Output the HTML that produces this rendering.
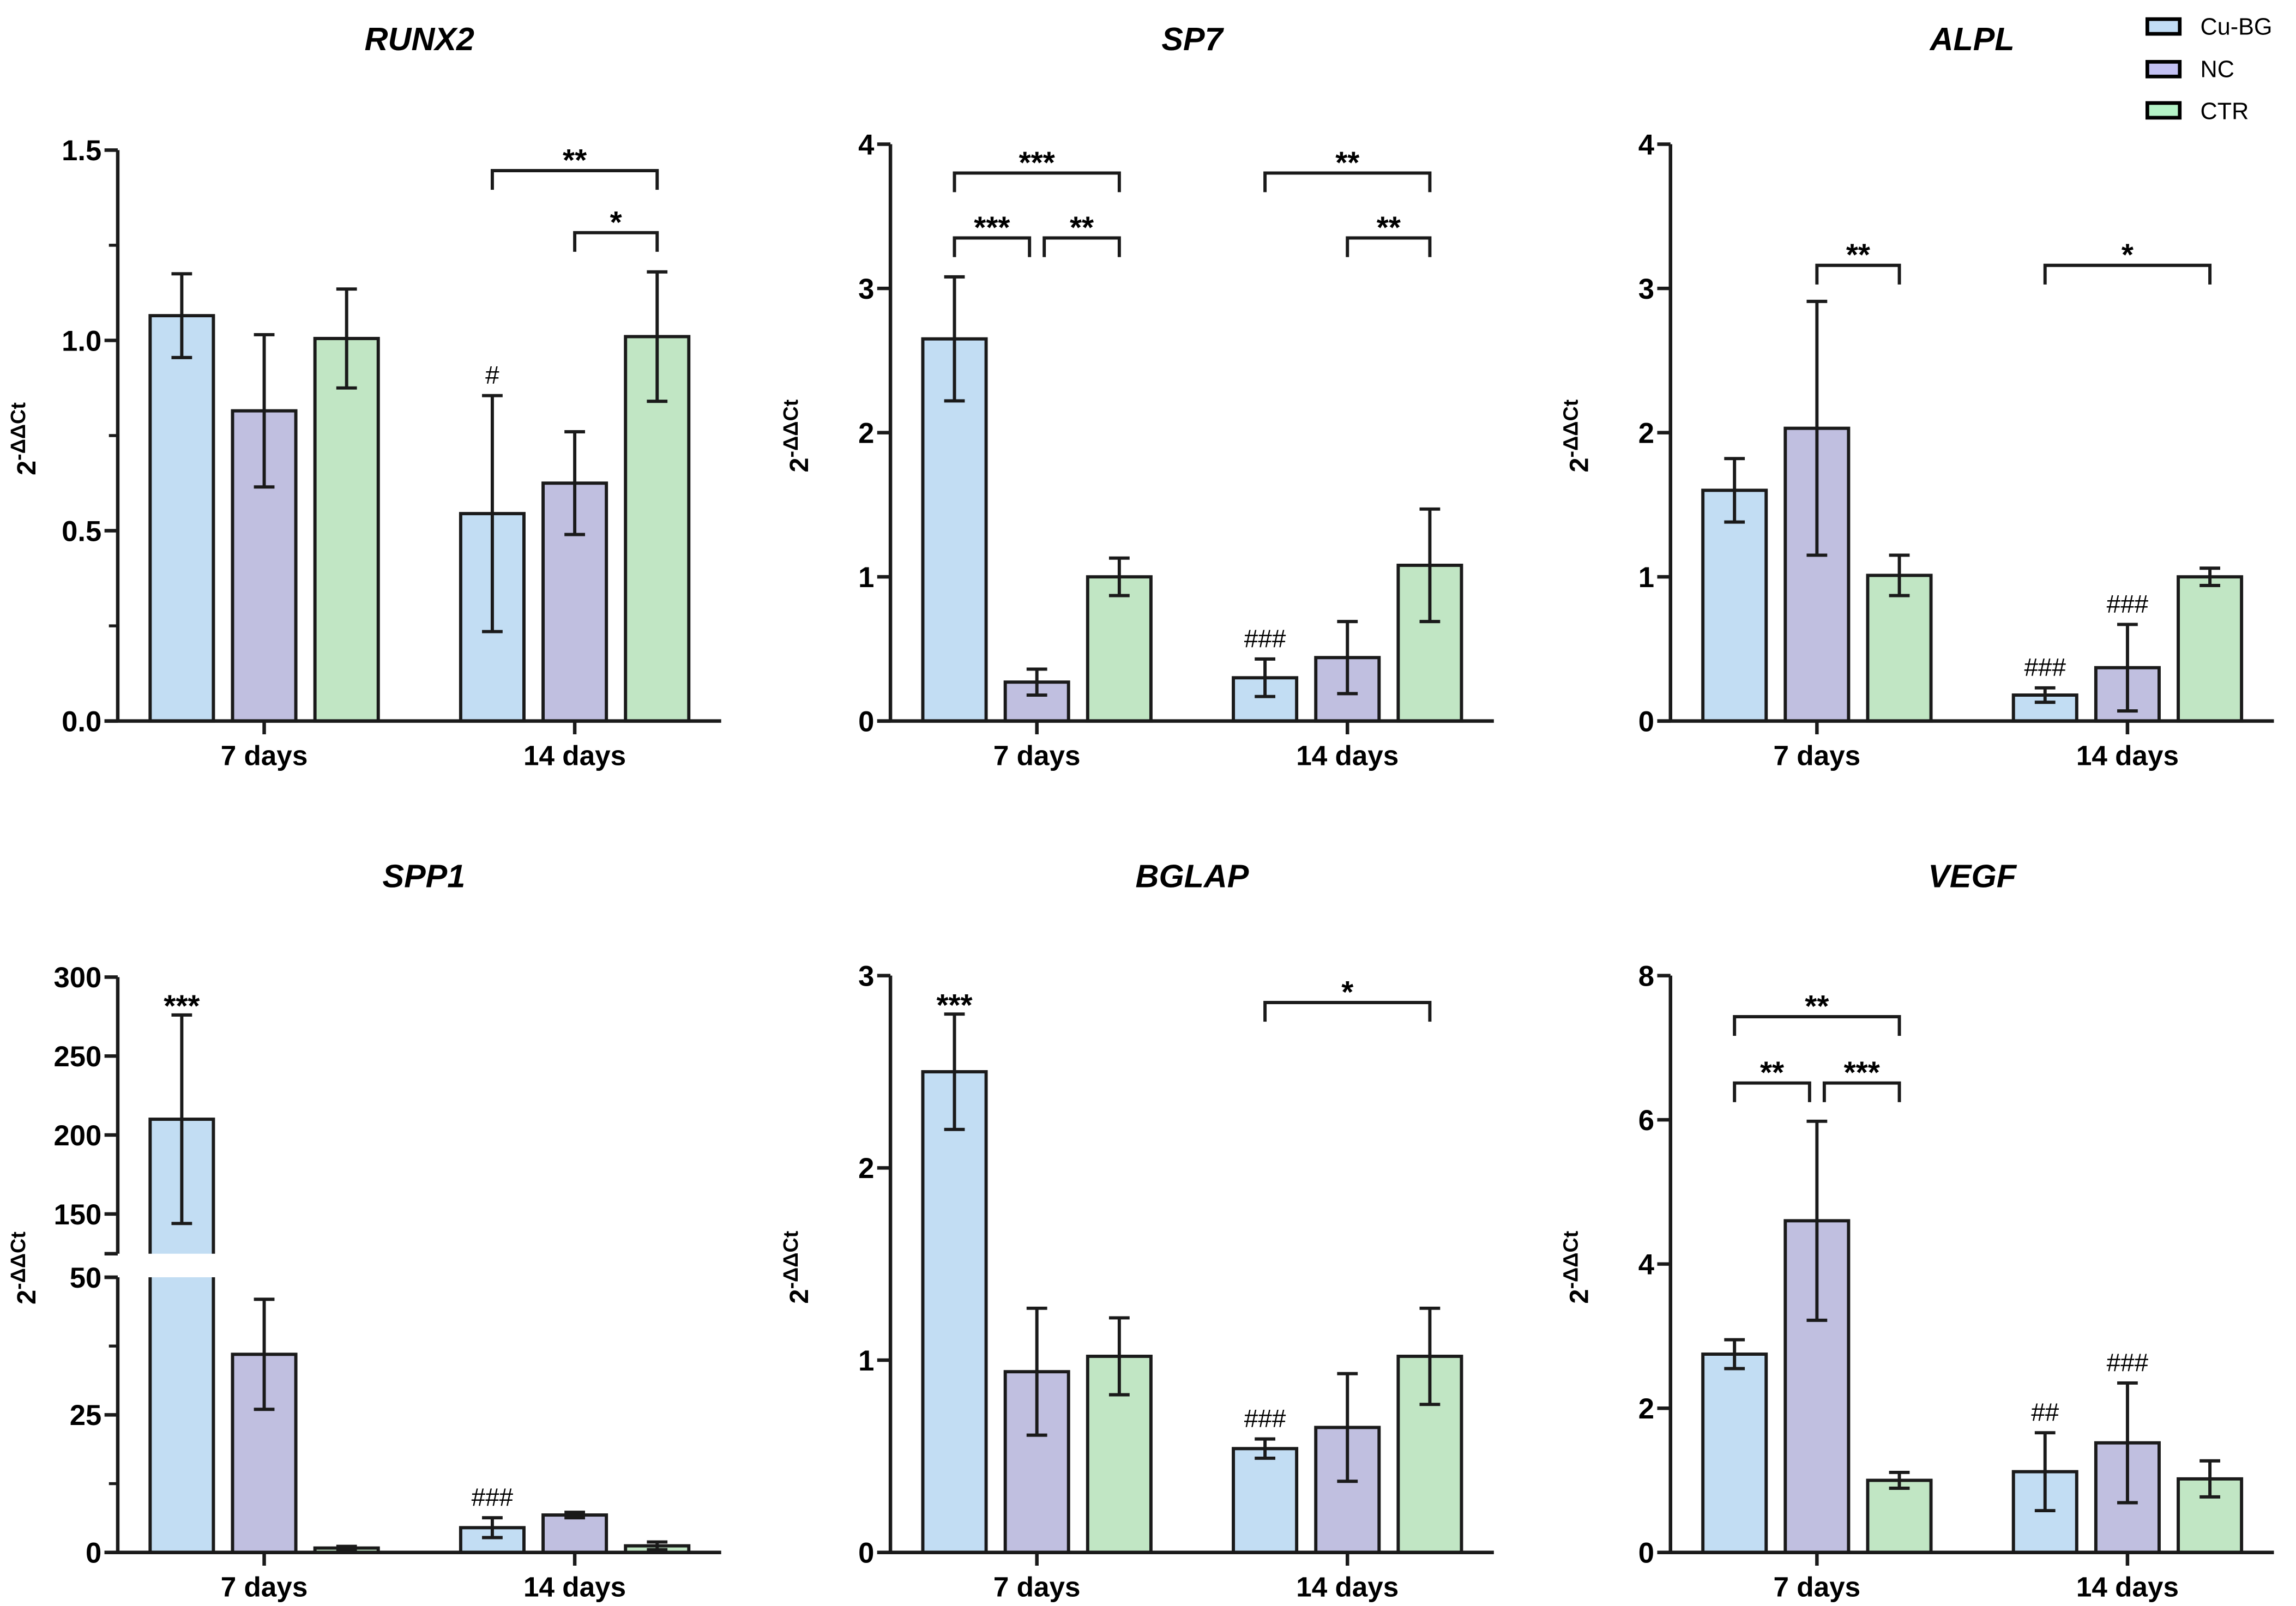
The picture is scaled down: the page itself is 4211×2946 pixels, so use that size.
<!DOCTYPE html>
<html><head><meta charset="utf-8"><style>
html,body{margin:0;padding:0;background:#fff;}
svg{display:block;font-family:"Liberation Sans",sans-serif;}
</style></head><body>
<svg id="fig" width="4211" height="2946" viewBox="0 0 1560 1091.4" preserveAspectRatio="none" xmlns="http://www.w3.org/2000/svg">
<rect x="0" y="0" width="1560" height="1092" fill="#fff"/>
<g>
 <g><rect x="1459" y="13" width="22" height="10" fill="#c2ddf5" stroke="#000" stroke-width="2.5"/><text x="1495" y="23.5" font-size="16">Cu-BG</text></g>
 <g><rect x="1459" y="42" width="22" height="10" fill="#c2c0f2" stroke="#000" stroke-width="2.5"/><text x="1495" y="52.5" font-size="16">NC</text></g>
 <g><rect x="1459" y="70" width="22" height="10" fill="#b4f2c6" stroke="#000" stroke-width="2.5"/><text x="1495" y="81" font-size="16">CTR</text></g>
</g>
</svg>
<script>
const categories = ["7 days","14 days"];
const groups = ["Cu-BG","NC","CTR"];
const genes = ["RUNX2","SP7","ALPL","SPP1","BGLAP","VEGF"];
// means ordered: 7d Cu-BG, NC, CTR, 14d Cu-BG, NC, CTR
const runx2Mean = [1.065,0.815,1.005,0.545,0.625,1.01];
const runx2Err  = [0.11,0.2,0.13,0.31,0.135,0.17];
const sp7Mean = [2.65,0.27,1.0,0.3,0.44,1.08];
const sp7Err  = [0.43,0.09,0.13,0.13,0.25,0.39];
const alplMean = [1.6,2.03,1.01,0.18,0.37,1.0];
const alplErr  = [0.22,0.88,0.14,0.05,0.3,0.06];
const spp1Mean = [210,36,0.8,4.5,6.8,1.2];
const spp1Err  = [66,10,0.3,1.8,0.5,0.7];
const bglapMean = [2.5,0.94,1.02,0.54,0.65,1.02];
const bglapErr  = [0.3,0.33,0.2,0.05,0.28,0.25];
const vegfMean = [2.75,4.6,1.0,1.12,1.52,1.02];
const vegfErr  = [0.2,1.38,0.11,0.54,0.83,0.25];
const runx2Ticks = ["0.0","0.5","1.0","1.5"];
const sp7Ticks = ["0","1","2","3","4"];
const alplTicks = ["0","1","2","3","4"];
const spp1LowTicks = ["0","25","50"];
const spp1HighTicks = ["150","200","250","300"];
const bglapTicks = ["0","1","2","3"];
const vegfTicks = ["0","2","4","6","8"];
// brackets: [fromBar, toBar, level value, label]
const runx2Brackets = [[3,5,1.446,"**"],[4,5,1.283,"*"]];
const sp7Brackets = [[0,2,3.8,"***"],[0,1,3.35,"***"],[1,2,3.35,"**"],[3,5,3.8,"**"],[4,5,3.35,"**"]];
const alplBrackets = [[1,2,3.16,"**"],[3,5,3.16,"*"]];
const spp1Brackets = [];
const bglapBrackets = [[3,5,2.86,"*"]];
const vegfBrackets = [[0,2,7.43,"**"],[0,1,6.51,"**"],[1,2,6.51,"***"]];
// annotations above error bars: [bar, label]
const runx2Marks = [[3,"#"]];
const sp7Marks = [[3,"###"]];
const alplMarks = [[3,"###"],[4,"###"]];
const spp1Marks = [[0,"***"],[3,"###"]];
const bglapMarks = [[0,"***"],[3,"###"]];
const vegfMarks = [[3,"##"],[4,"###"]];

const NS="http://www.w3.org/2000/svg";
const svg=document.getElementById('fig');
const fills=["#c2ddf3","#c0bfe0","#c1e6c4"];
function mk(tag,attrs,parent){const e=document.createElementNS(NS,tag);for(const k in attrs)e.setAttribute(k,attrs[k]);(parent||svg).appendChild(e);return e;}

const panels=[
 {gene:0,ax:80,top:102,bot:490,right:490,cx:285,ty:34,max:1.5,ticks:runx2Ticks,minor:[0.25,0.75,1.25],m:runx2Mean,e:runx2Err,b:runx2Brackets,k:runx2Marks},
 {gene:1,ax:605,top:98,bot:490,right:1015,cx:810,ty:34,max:4,ticks:sp7Ticks,minor:[],m:sp7Mean,e:sp7Err,b:sp7Brackets,k:sp7Marks},
 {gene:2,ax:1135,top:98,bot:490,right:1545,cx:1340,ty:34,max:4,ticks:alplTicks,minor:[],m:alplMean,e:alplErr,b:alplBrackets,k:alplMarks},
 {gene:3,ax:80,top:664,bot:1055,right:490,cx:288,ty:603,broken:true,m:spp1Mean,e:spp1Err,b:spp1Brackets,k:spp1Marks},
 {gene:4,ax:605,top:663,bot:1055,right:1015,cx:810,ty:603,max:3,ticks:bglapTicks,minor:[],m:bglapMean,e:bglapErr,b:bglapBrackets,k:bglapMarks},
 {gene:5,ax:1135,top:663,bot:1055,right:1545,cx:1340,ty:603,max:8,ticks:vegfTicks,minor:[],m:vegfMean,e:vegfErr,b:vegfBrackets,k:vegfMarks}
];

panels.forEach(p=>{
 const g=mk('g',{});
 
 
 let y;
 const brkHi=852, brkLo=868;
 if(p.broken){
   y=v=> v<=50 ? p.bot-(v/50)*(p.bot-brkLo) : (v<125? brkHi : 825-(v-150)*(825-p.top)/150);
 } else {
   y=v=>p.bot-v/p.max*(p.bot-p.top);
 }
 const t=mk('text',{x:p.cx,y:p.ty,'text-anchor':'middle','font-size':22,'font-weight':'bold','font-style':'italic'},g);
 t.textContent=genes[p.gene];
 
 
 const yl=mk('text',{transform:`translate(${p.ax-56},${(p.top+p.bot)/2+27}) rotate(-90)`,'font-size':18,'font-weight':'bold'},g);
 
 
 yl.innerHTML='2<tspan dy="-7" font-size="14">-ΔΔCt</tspan>';
 const bw=43;
 const xs=[p.ax+22,p.ax+78,p.ax+134,p.ax+233,p.ax+289,p.ax+345];
 const centers=xs.map(x=>x+bw/2);
 p.m.forEach((v,i)=>{
   const top=y(v);
   const r=mk('rect',{x:xs[i],y:top,width:bw,height:p.bot-top,fill:fills[i%3],stroke:'#1a1a1a','stroke-width':2.2},g);
   
   
   const hi=y(v+p.e[i]), lo=y(Math.max(0,v-p.e[i]));
   const c=centers[i];
   const eb=mk('path',{d:`M${c},${hi}V${lo}M${c-7},${hi}H${c+7}M${c-7},${lo}H${c+7}`,stroke:'#1a1a1a','stroke-width':2.2,fill:'none'},g);
   
   
 });
 if(p.broken){
   const gap=mk('rect',{x:xs[0]-3,y:brkHi,width:bw+6,height:brkLo-brkHi,fill:'#fff'},g);
   
   
 }
 const axPath = p.broken ? `M${p.ax},${p.top}V${brkHi}M${p.ax-9},${brkHi}H${p.ax}M${p.ax},${brkLo}V${p.bot}M${p.ax-9},${brkLo}H${p.ax}` : `M${p.ax},${p.top}V${p.bot}`;
 const ya=mk('path',{d:axPath,stroke:'#1a1a1a','stroke-width':2.4,fill:'none'},g);
 
 
 const xa=mk('path',{d:`M${p.ax-9},${p.bot}H${p.right}M${(centers[0]+centers[2])/2},${p.bot}v9M${(centers[3]+centers[5])/2},${p.bot}v9`,stroke:'#1a1a1a','stroke-width':2.4,fill:'none'},g);
 
 
 categories.forEach((c,j)=>{
   const xt=mk('text',{x:(centers[j*3]+centers[j*3+2])/2,y:p.bot+30,'text-anchor':'middle','font-size':19,'font-weight':'bold'},g);
   xt.textContent=c;
   
   
 });
 let tl = p.broken ? spp1LowTicks.concat(spp1HighTicks) : p.ticks;
 tl.forEach(s=>{
   const v=parseFloat(s), yy=y(v);
   mk('path',{d:`M${p.ax-9},${yy}H${p.ax}`,stroke:'#1a1a1a','stroke-width':2.4},g);
   const tx=mk('text',{x:p.ax-11,y:yy+7,'text-anchor':'end','font-size':19.5,'font-weight':'bold'},g);
   tx.textContent=s;
   
   
 });
 const minors = p.broken ? [12.5,37.5] : p.minor;
 minors.forEach(v=>{ mk('path',{d:`M${p.ax-6},${y(v)}H${p.ax}`,stroke:'#1a1a1a','stroke-width':2},g); });
 p.b.forEach(bk=>{
   let x1=centers[bk[0]], x2=centers[bk[1]];
   if(bk[1]-bk[0]===1){ if(p.b.some(o=>o!==bk&&o[0]===bk[1]&&o[2]===bk[2])) x2-=5; if(p.b.some(o=>o!==bk&&o[1]===bk[0]&&o[2]===bk[2])) x1+=5; }
   const by=y(bk[2]);
   const br=mk('path',{d:`M${x1},${by+13}V${by}H${x2}V${by+13}`,stroke:'#1a1a1a','stroke-width':2.2,fill:'none'},g);
   
   
   const st=mk('text',{x:(x1+x2)/2,y:by,'text-anchor':'middle','font-size':21,'font-weight':'bold'},g);
   st.textContent=bk[3];
   
   
 });
 p.k.forEach(mm=>{
   const i=mm[0];
   const hi=y(p.m[i]+p.e[i]);
   const isStar=mm[1][0]==='*';
   const st=mk('text',{x:centers[i],y:isStar?hi+1:hi-8,'text-anchor':'middle','font-size':isStar?21:17,'font-weight':isStar?'bold':'normal'},g);
   st.textContent=mm[1];
   
   
 });
});
</script>
</body></html>
